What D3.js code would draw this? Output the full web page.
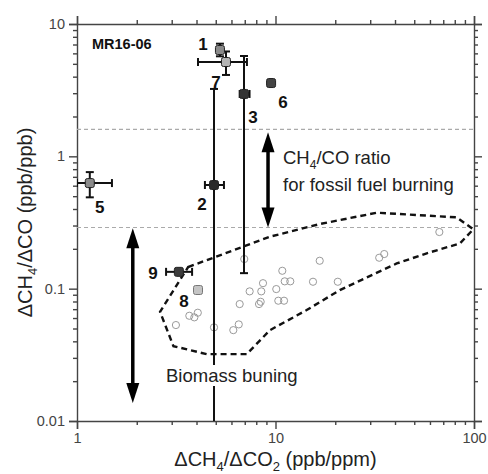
<!DOCTYPE html>
<html>
<head>
<meta charset="utf-8">
<script src="https://cdn.jsdelivr.net/npm/d3@7"></script>
<style>
  body { margin: 0; background: #fff; }
  svg { display: block; font-family: "Liberation Sans", Arial, sans-serif; }
</style>
</head>
<body>
<div id="chart"></div>
<script>
// campaign points (labelled squares with error bars)
var pointIds = ["1", "2", "3", "5", "6", "7", "8", "9"];
var pointX   = [5.25, 4.9, 6.94, 1.16, 9.5, 5.63, 4.07, 3.26];
var pointY   = [6.36, 0.607, 2.96, 0.628, 3.58, 5.16, 0.0977, 0.134];
var pointXLo = [null, 4.41, 6.6, 1.0, null, 4.07, null, 2.81];
var pointXHi = [null, 5.5, 7.4, 1.5, null, 7.18, null, 3.8];
var pointYLo = [5.7, 0.005, 0.131, 0.49, null, 4.12, null, null];
var pointYHi = [7.1, 3.23, 5.73, 0.76, null, 6.2, null, null];
var pointShade = ["#8a8a8a", "#2a2a2a", "#333", "#8c8c8c", "#444", "#b4b4b4", "#c4c4c4", "#3c3c3c"];

// biomass burning samples (open circles)
var biomassX = [3.15, 3.68, 3.90, 4.06, 4.90, 6.13, 6.53, 6.60, 6.96, 7.41, 8.26, 8.42, 8.48,
                8.65, 10.09, 10.33, 11.04, 10.82, 11.13, 11.87, 15.45, 16.7, 20.6, 33.3, 35.3, 66.9];
var biomassY = [0.0531, 0.0624, 0.0607, 0.0658, 0.051, 0.0486, 0.0537, 0.0765, 0.1675, 0.0954, 0.0765, 0.0796, 0.0954,
                0.110, 0.0993, 0.0811, 0.0811, 0.1365, 0.1136, 0.1136, 0.1128, 0.1625, 0.1128, 0.1713, 0.1827, 0.268];

// dashed outline of the biomass region
var regionX = [3.63, 4.96, 9.38, 16.75, 32.4, 81.8, 99.2, 85, 57.8, 40.8, 21.1, 14.36, 9.38, 7.16, 4.5, 3.06, 2.62, 3.3];
var regionY = [0.1456, 0.1733, 0.247, 0.308, 0.375, 0.346, 0.281, 0.22, 0.185, 0.155, 0.0976, 0.0689, 0.0486, 0.032, 0.032, 0.0368, 0.0669, 0.116];

// fossil fuel ratio limits and arrows
var refLines = [1.6, 0.29];
var arrowX  = [1.91, 9.17];
var arrowY0 = [0.0137, 0.29];
var arrowY1 = [0.286, 1.52];

var xTicks = [1, 10, 100];
var yTicks = [0.01, 0.1, 1, 10];

var W = 488, H = 474;
var margin = {top: 24, right: 14, bottom: 53, left: 77};
var width = W - margin.left - margin.right;
var height = H - margin.top - margin.bottom;

var svg = d3.select("#chart").append("svg")
    .attr("width", W)
    .attr("height", H);

var x = d3.scaleLog().domain([1, 100]).range([0, width]);
var y = d3.scaleLog().domain([0.01, 10]).range([height, 0]);

var g = svg.append("g")
    .attr("transform", "translate(" + margin.left + "," + margin.top + ")");

g.append("clipPath").attr("id", "plot-clip")
  .append("rect").attr("width", width).attr("height", height);

function minorTicks(lo, hi) {
    var t = [];
    for (var d = lo; d < hi; d *= 10) {
        for (var k = 2; k <= 9; k++) t.push(d * k);
    }
    return t;
}

// axes, all four sides, ticks pointing outwards
function drawAxis(axisFn, scale, majors, minors, transform, labels) {
    var major = g.append("g").attr("transform", transform)
        .call(axisFn(scale).tickValues(majors).tickSizeOuter(0).tickSize(8)
            .tickPadding(4)
            .tickFormat(labels ? d3.format("~g") : ""));
    var minor = g.append("g").attr("transform", transform)
        .call(axisFn(scale).tickValues(minors).tickSizeOuter(0).tickSize(4).tickFormat(""));
    minor.select(".domain").remove();
    [major, minor].forEach(function(a) {
        a.selectAll("path, line").attr("stroke", "#444").attr("stroke-width", 1.4);
    });
    major.selectAll("text").attr("fill", "#444").style("font-size", "14.5px")
        .style("font-family", "'Liberation Sans', Arial, sans-serif");
    return major;
}
drawAxis(d3.axisBottom, x, xTicks, minorTicks(1, 100), "translate(0," + height + ")", true);
drawAxis(d3.axisTop, x, xTicks, minorTicks(1, 100), "translate(0,0)", false);
drawAxis(d3.axisLeft, y, yTicks, minorTicks(0.01, 10), "translate(0,0)", true);
drawAxis(d3.axisRight, y, yTicks, minorTicks(0.01, 10), "translate(" + width + ",0)", false);

var plot = g.append("g").attr("clip-path", "url(#plot-clip)");

// grey dashed fossil-fuel limits
plot.selectAll(".ref").data(refLines).enter().append("line")
    .attr("x1", 0).attr("x2", width)
    .attr("y1", function(d) { return y(d); })
    .attr("y2", function(d) { return y(d); })
    .attr("stroke", "#aaa").attr("stroke-width", 1.2)
    .attr("stroke-dasharray", "4,3");

// biomass region outline
var region = regionX.map(function(v, i) { return [x(v), y(regionY[i])]; });
plot.append("path")
    .attr("d", d3.line().curve(d3.curveLinearClosed)(region))
    .attr("fill", "none").attr("stroke", "#111").attr("stroke-width", 2.4)
    .attr("stroke-dasharray", "6,4");

plot.selectAll(".bb").data(biomassX).enter().append("circle")
    .attr("cx", function(d) { return x(d); })
    .attr("cy", function(d, i) { return y(biomassY[i]); })
    .attr("r", 3.6)
    .attr("fill", "none").attr("stroke", "#9a9a9a").attr("stroke-width", 1);

// error bars
var cap = 4;
pointIds.forEach(function(id, i) {
    var px = x(pointX[i]), py = y(pointY[i]);
    var eb = plot.append("g").attr("stroke", "#111").attr("stroke-width", 2);
    if (pointYLo[i] != null) {
        var y0 = y(pointYLo[i]), y1 = y(pointYHi[i]);
        eb.append("line").attr("x1", px).attr("x2", px).attr("y1", y0).attr("y2", y1);
        eb.append("line").attr("x1", px - cap).attr("x2", px + cap).attr("y1", y0).attr("y2", y0);
        eb.append("line").attr("x1", px - cap).attr("x2", px + cap).attr("y1", y1).attr("y2", y1);
    }
    if (pointXLo[i] != null) {
        var x0 = x(pointXLo[i]), x1 = x(pointXHi[i]);
        eb.append("line").attr("x1", x0).attr("x2", x1).attr("y1", py).attr("y2", py);
        eb.append("line").attr("x1", x0).attr("x2", x0).attr("y1", py - cap).attr("y2", py + cap);
        eb.append("line").attr("x1", x1).attr("x2", x1).attr("y1", py - cap).attr("y2", py + cap);
    }
});

// squares
var sq = 9;
plot.selectAll(".pt").data(pointIds).enter().append("rect")
    .attr("x", function(d, i) { return x(pointX[i]) - sq / 2; })
    .attr("y", function(d, i) { return y(pointY[i]) - sq / 2; })
    .attr("width", sq).attr("height", sq)
    .attr("rx", 2).attr("ry", 2)
    .attr("fill", function(d, i) { return pointShade[i]; })
    .attr("stroke", function(d, i) { return i == 6 ? "#777" : "#222"; })
    .attr("stroke-width", 1);

// number labels (pixel offsets from each square)
var labelDx = [-17, -12, 9, 10, 12, -10, -14, -26];
var labelDy = [0, 25, 29, 30, 25, 26, 17, 7];
g.selectAll(".lbl").data(pointIds).enter().append("text")
    .attr("x", function(d, i) { return x(pointX[i]) + labelDx[i]; })
    .attr("y", function(d, i) { return y(pointY[i]) + labelDy[i]; })
    .attr("text-anchor", "middle")
    .style("font-size", "17px").style("font-weight", "bold")
    .attr("fill", "#111")
    .text(function(d) { return d; });

// double headed arrows
function arrow(xv, ya, yb) {
    var ax = x(xv), top = y(yb), bot = y(ya);
    var hl = 20, hw = 6.5;
    g.append("line").attr("x1", ax).attr("x2", ax)
        .attr("y1", top + hl - 2).attr("y2", bot - hl + 2)
        .attr("stroke", "#000").attr("stroke-width", 3.5);
    g.append("path")
        .attr("d", "M" + ax + "," + top + "L" + (ax - hw) + "," + (top + hl) + "L" + (ax + hw) + "," + (top + hl) + "Z")
        .attr("fill", "#000");
    g.append("path")
        .attr("d", "M" + ax + "," + bot + "L" + (ax - hw) + "," + (bot - hl) + "L" + (ax + hw) + "," + (bot - hl) + "Z")
        .attr("fill", "#000");
}
arrowX.forEach(function(v, i) { arrow(v, arrowY0[i], arrowY1[i]); });

// annotations
svg.append("text").attr("x", 92).attr("y", 49)
    .style("font-size", "14.5px").style("font-weight", "bold").attr("fill", "#111")
    .text("MR16-06");

var ratio = svg.append("text").attr("x", 283).attr("y", 164)
    .style("font-size", "18.5px").attr("fill", "#222");
ratio.append("tspan").text("CH");
ratio.append("tspan").attr("dy", 5).style("font-size", "12px").text("4");
ratio.append("tspan").attr("dy", -5).text("/CO ratio");
svg.append("text").attr("x", 283).attr("y", 191)
    .style("font-size", "18.5px").attr("fill", "#222")
    .text("for fossil fuel burning");

var bioG = svg.append("g");
var bio = bioG.append("text").attr("x", 166).attr("y", 382)
    .style("font-size", "18.5px").attr("fill", "#222")
    .text("Biomass buning");
var bb = bio.node().getBBox();
bioG.insert("rect", "text")
    .attr("x", bb.x - 2).attr("y", bb.y).attr("width", bb.width + 4).attr("height", bb.height)
    .attr("fill", "#fff");

// axis titles
var xt = svg.append("text").attr("x", margin.left + width / 2).attr("y", 466)
    .attr("text-anchor", "middle").style("font-size", "20px").attr("fill", "#222");
xt.append("tspan").text("\u0394CH");
xt.append("tspan").attr("dy", 5).style("font-size", "13px").text("4");
xt.append("tspan").attr("dy", -5).text("/\u0394CO");
xt.append("tspan").attr("dy", 5).style("font-size", "13px").text("2");
xt.append("tspan").attr("dy", -5).text(" (ppb/ppm)");

var yt = svg.append("text")
    .attr("transform", "translate(32," + (margin.top + height / 2) + ") rotate(-90)")
    .attr("text-anchor", "middle").style("font-size", "20px").attr("fill", "#222");
yt.append("tspan").text("\u0394CH");
yt.append("tspan").attr("dy", 5).style("font-size", "13px").text("4");
yt.append("tspan").attr("dy", -5).text("/\u0394CO (ppb/ppb)");
</script>
</body>
</html>
